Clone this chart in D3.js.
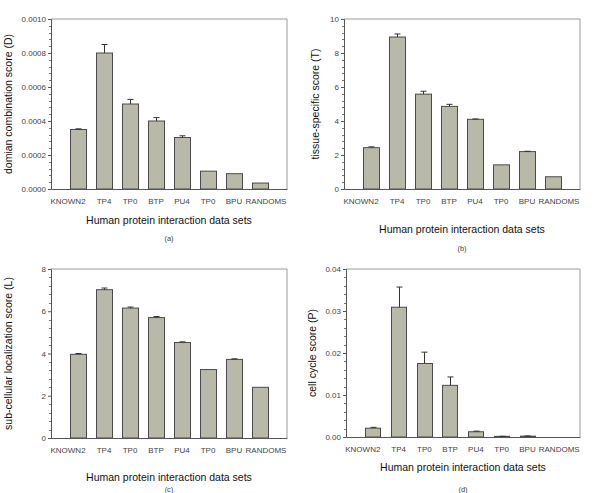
<!DOCTYPE html>
<html><head><meta charset="utf-8">
<script src="https://cdn.jsdelivr.net/npm/d3@7"></script>
<style>body{margin:0;background:#fff}svg{display:block}text{font-family:Arial,"Liberation Sans",sans-serif}</style>
</head><body>
<svg id="c" width="600" height="493"></svg>
<script>
const categories = ["KNOWN2","TP4","TP0","BTP","PU4","TP0","BPU","RANDOMS"];
const xTitle = "Human protein interaction data sets";

const domainValues = [0.00035,0.0008,0.0005,0.0004,0.000303,0.000105,0.00009,0.000035];
const domainErrors = [0.000004,0.00005,0.000027,0.00002,0.00001,0,0,0];
const domainTicks = [0,0.0002,0.0004,0.0006,0.0008,0.0010];

const tissueValues = [2.43,8.94,5.58,4.86,4.10,1.42,2.20,0.72];
const tissueErrors = [0.05,0.18,0.17,0.12,0.02,0,0.02,0];
const tissueTicks = [0,2,4,6,8,10];

const localValues = [3.96,7.02,6.15,5.70,4.52,3.24,3.72,2.40];
const localErrors = [0.04,0.08,0.05,0.05,0.03,0,0.03,0];
const localTicks = [0,2,4,6,8];

const cycleValues = [0.0021,0.0309,0.0175,0.0123,0.00125,0.00015,0.0002,0];
const cycleErrors = [0.0002,0.0048,0.0027,0.002,0.00015,0.00003,0.00005,0];
const cycleTicks = [0,0.01,0.02,0.03,0.04];

const panels = [
  {values:domainValues, errors:domainErrors, ticks:domainTicks, fmt:d3.format(".4f"), ytitle:"domian combination score (D)", tag:"(a)",
   x0:51, x1:287, y0:189, y1:19, ytx:8, xty:224, tagy:241},
  {values:tissueValues, errors:tissueErrors, ticks:tissueTicks, fmt:d3.format("d"), ytitle:"tissue-specific score (T)", tag:"(b)",
   x0:344, x1:580, y0:189, y1:19, ytx:315, xty:233, tagy:251},
  {values:localValues, errors:localErrors, ticks:localTicks, fmt:d3.format("d"), ytitle:"sub-cellular localization score (L)", tag:"(c)",
   x0:51, x1:287, y0:438, y1:269, ytx:8, xty:481, tagy:492},
  {values:cycleValues, errors:cycleErrors, ticks:cycleTicks, fmt:d3.format(".2f"), ytitle:"cell cycle score (P)", tag:"(d)",
   x0:346, x1:580, y0:437, y1:269, ytx:312, xty:471, tagy:492}
];

const svg = d3.select("#c");
const barFill = "#b9b9aa", barStroke = "#4a4a4a";

panels.forEach(p => {
  const g = svg.append("g");
  const x = d3.scaleBand().domain(d3.range(categories.length)).range([p.x0, p.x1]).paddingInner(0.4).paddingOuter(0.74);
  const ymax = p.ticks[p.ticks.length-1];
  const y = d3.scaleLinear().domain([0, ymax]).range([p.y0, p.y1]);

  // frame top/right
  g.append("line").attr("x1",p.x0).attr("x2",p.x1).attr("y1",p.y1).attr("y2",p.y1).attr("stroke","#9a9a9a");
  g.append("line").attr("x1",p.x1).attr("x2",p.x1).attr("y1",p.y1).attr("y2",p.y0).attr("stroke","#9a9a9a");

  // minor ticks
  const minor = [];
  for (let i=0;i<p.ticks.length-1;i++){
    const a=p.ticks[i], b=p.ticks[i+1];
    for (let k=1;k<5;k++) minor.push(a+(b-a)*k/5);
  }
  g.selectAll(".mn").data(minor).enter().append("line")
    .attr("x1",p.x0-2).attr("x2",p.x0).attr("y1",d=>Math.round(y(d))+0.5).attr("y2",d=>Math.round(y(d))+0.5)
    .attr("stroke","#777");

  // bars
  g.selectAll(".bar").data(p.values).enter().append("rect")
    .attr("x",(d,i)=>Math.round(x(i))+0.5).attr("width",Math.round(x.bandwidth()))
    .attr("y",d=>y(d)).attr("height",d=>p.y0-y(d))
    .attr("fill",barFill).attr("stroke",d=>d>0?barStroke:"none").attr("stroke-width",1);

  // error bars (upper)
  p.values.forEach((v,i)=>{
    const e=p.errors[i]; if(!(e>0)) return;
    const cx=Math.round(x(i)+x.bandwidth()/2)+0.5;
    g.append("line").attr("x1",cx).attr("x2",cx).attr("y1",y(v)).attr("y2",y(v+e)).attr("stroke","#333");
    g.append("line").attr("x1",cx-3).attr("x2",cx+3).attr("y1",y(v+e)).attr("y2",y(v+e)).attr("stroke","#333");
  });

  // y axis
  const ya = g.append("g").attr("transform",`translate(${p.x0},0)`)
    .call(d3.axisLeft(y).tickValues(p.ticks).tickFormat(p.fmt).tickSize(3).tickPadding(2));
  ya.select(".domain").attr("stroke","#555");
  ya.selectAll(".tick line").attr("stroke","#555");
  ya.selectAll("text").attr("font-size",8).attr("fill","#444");

  // x axis
  const xa = g.append("g").attr("transform",`translate(0,${p.y0})`)
    .call(d3.axisBottom(x).tickFormat(i=>categories[i]).tickSize(0).tickPadding(9));
  xa.select(".domain").attr("stroke","#555");
  xa.selectAll("text").attr("font-size",8).attr("fill","#444")
    .attr("dx",(d,i)=> i===0 ? -10 : (i===categories.length-1 ? 6 : 0));

  // titles
  g.append("text").attr("x",(p.x0+p.x1)/2).attr("y",p.xty).attr("text-anchor","middle")
    .attr("font-size",10.5).attr("fill","#111").text(xTitle);
  g.append("text").attr("x",(p.x0+p.x1)/2).attr("y",p.tagy).attr("text-anchor","middle")
    .attr("font-size",7.5).attr("fill","#444").text(p.tag);
  g.append("text").attr("transform",`translate(${p.ytx+4},${(p.y0+p.y1)/2}) rotate(-90)`)
    .attr("text-anchor","middle").attr("font-size",10.5).attr("fill","#111").text(p.ytitle);
});
</script>
</body></html>
